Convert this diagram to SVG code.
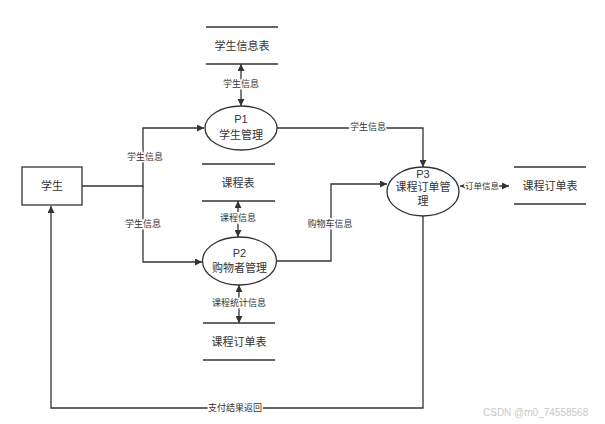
<svg xmlns="http://www.w3.org/2000/svg" width="605" height="424" viewBox="0 0 605 424">
<defs>
<marker id="ah" viewBox="0 0 10 10" refX="10" refY="5" markerWidth="8" markerHeight="7" orient="auto-start-reverse" markerUnits="userSpaceOnUse">
<path d="M0,0 L10,5 L0,10 Z" fill="#333"/>
</marker>
<style>
.ln{fill:none;stroke:#333;stroke-width:1.3}
.nd{fill:#fff;stroke:#333;stroke-width:1.3}
.st{stroke:#333;stroke-width:1.5}
.t{font-family:"Liberation Sans","Noto Sans CJK SC",sans-serif;font-size:11px;fill:#333;text-anchor:middle;dominant-baseline:central}
.lb{font-family:"Liberation Sans","Noto Sans CJK SC",sans-serif;font-size:9px;fill:#333;text-anchor:middle;dominant-baseline:central;stroke:#fff;stroke-width:3px;paint-order:stroke}
.wm{font-family:"Liberation Sans","Noto Sans CJK SC",sans-serif;font-size:10px;fill:#c8c8c8}
</style>
</defs>
<rect width="605" height="424" fill="#fff"/>
<g id="connectors">
<path class="ln" d="M82,186 H143 V128 H204" marker-end="url(#ah)"/>
<path class="ln" d="M143,186 V262 H202" marker-end="url(#ah)"/>
<path class="ln" d="M241,106 V64" marker-end="url(#ah)" marker-start="url(#ah)"/>
<path class="ln" d="M238,237 V201" marker-end="url(#ah)" marker-start="url(#ah)"/>
<path class="ln" d="M239,285 V323" marker-end="url(#ah)" marker-start="url(#ah)"/>
<path class="ln" d="M277,128 H423 V167" marker-end="url(#ah)"/>
<path class="ln" d="M277,261 H331 V184 H387" marker-end="url(#ah)"/>
<path class="ln" d="M460,186 H509" marker-end="url(#ah)" marker-start="url(#ah)"/>
<path class="ln" d="M423,216 V408 H51 V206" marker-end="url(#ah)"/>
<text class="lb" x="145" y="157">学生信息</text>
<text class="lb" x="143" y="224">学生信息</text>
<text class="lb" x="241" y="84">学生信息</text>
<text class="lb" x="238" y="218">课程信息</text>
<text class="lb" x="239" y="303">课程统计信息</text>
<text class="lb" x="368" y="127">学生信息</text>
<text class="lb" x="330" y="224">购物车信息</text>
<text class="lb" x="482" y="186" style="font-size:8.5px">订单信息</text>
<text class="lb" x="235" y="408">支付结果返回</text>
</g>
<g id="student">
<rect class="nd" x="22" y="167" width="60" height="38"/>
<text class="t" x="52" y="186">学生</text>
</g>
<g id="store-student">
<line class="st" x1="206" y1="27" x2="278" y2="27"/>
<line class="st" x1="206" y1="64" x2="278" y2="64"/>
<text class="t" x="242" y="46">学生信息表</text>
</g>
<g id="p1">
<ellipse class="nd" cx="241" cy="128" rx="36" ry="22"/>
<text class="t" x="241" y="119">P1</text>
<text class="t" x="241" y="135">学生管理</text>
</g>
<g id="store-course">
<line class="st" x1="202" y1="164" x2="275" y2="164"/>
<line class="st" x1="202" y1="201" x2="275" y2="201"/>
<text class="t" x="238" y="183">课程表</text>
</g>
<g id="p2">
<ellipse class="nd" cx="239.5" cy="261" rx="37" ry="24"/>
<text class="t" x="239.5" y="253">P2</text>
<text class="t" x="239.5" y="268">购物者管理</text>
</g>
<g id="store-order-bottom">
<line class="st" x1="203" y1="323" x2="275" y2="323"/>
<line class="st" x1="203" y1="360" x2="275" y2="360"/>
<text class="t" x="239" y="342">课程订单表</text>
</g>
<g id="p3">
<ellipse class="nd" cx="423" cy="191.5" rx="36" ry="24.5"/>
<text class="t" x="423" y="174">P3</text>
<text class="t" x="423" y="187">课程订单管</text>
<text class="t" x="423" y="201">理</text>
</g>
<g id="store-order-right">
<line class="st" x1="514" y1="167" x2="586" y2="167"/>
<line class="st" x1="514" y1="204" x2="586" y2="204"/>
<text class="t" x="550" y="186">课程订单表</text>
</g>
<text class="wm" x="483" y="416">CSDN @m0_74558568</text>
</svg>
